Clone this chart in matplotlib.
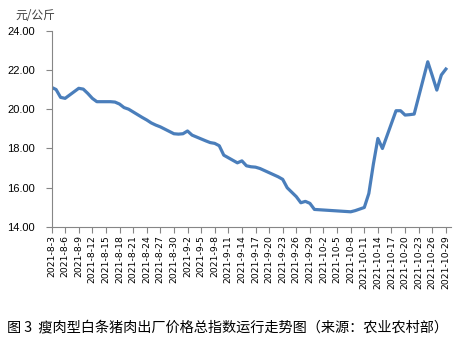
import pandas as pd
import matplotlib.pyplot as plt

plt.rcParams['font.family'] = ['Noto Sans CJK SC', 'DejaVu Sans']

# price index, yuan / kg (working days only)
dates = ['2021-08-03', '2021-08-04', '2021-08-05', '2021-08-06',
         '2021-08-09', '2021-08-10', '2021-08-11', '2021-08-12', '2021-08-13',
         '2021-08-16', '2021-08-17', '2021-08-18', '2021-08-19', '2021-08-20',
         '2021-08-23', '2021-08-24', '2021-08-25', '2021-08-26', '2021-08-27',
         '2021-08-30', '2021-08-31', '2021-09-01', '2021-09-02', '2021-09-03',
         '2021-09-06', '2021-09-07', '2021-09-08', '2021-09-09', '2021-09-10',
         '2021-09-13', '2021-09-14', '2021-09-15', '2021-09-16', '2021-09-17',
         '2021-09-18', '2021-09-22', '2021-09-23', '2021-09-24', '2021-09-26',
         '2021-09-27', '2021-09-28', '2021-09-29', '2021-09-30',
         '2021-10-08', '2021-10-09', '2021-10-11', '2021-10-12', '2021-10-13',
         '2021-10-14', '2021-10-15', '2021-10-18', '2021-10-19', '2021-10-20',
         '2021-10-21', '2021-10-22', '2021-10-25', '2021-10-26', '2021-10-27',
         '2021-10-28', '2021-10-29']
prices = [21.11, 21.00, 20.60, 20.55,
          21.06, 21.02, 20.80, 20.55, 20.38,
          20.38, 20.36, 20.26, 20.08, 20.00,
          19.58, 19.45, 19.30, 19.19, 19.10,
          18.75, 18.73, 18.75, 18.89, 18.68,
          18.39, 18.30, 18.26, 18.14, 17.66,
          17.27, 17.37, 17.12, 17.07, 17.05,
          16.98, 16.56, 16.43, 16.00, 15.55,
          15.24, 15.31, 15.21, 14.90,
          14.78, 14.84, 15.00, 15.71, 17.20,
          18.51, 18.00, 19.92, 19.92, 19.70,
          19.72, 19.75, 22.41, 21.70, 20.97,
          21.74, 22.04]

x = pd.to_datetime(dates)
tick_dates = pd.date_range('2021-08-03', '2021-10-29', freq='3D')
tick_labels = [f'{d.year}-{d.month}-{d.day}' for d in tick_dates]

fig = plt.figure(figsize=(4.6, 3.39), dpi=100)
ax = fig.add_axes([0.112, 0.330, 0.868, 0.580])

ax.plot(x, prices, color='#4a7ebb', lw=2.3, solid_joinstyle='round')

ax.set_ylim(14, 24)
ax.set_yticks([14, 16, 18, 20, 22, 24])
ax.set_yticklabels([f'{v:.2f}' for v in [14, 16, 18, 20, 22, 24]],
                   family='Liberation Sans', fontsize=8)
ax.set_xlim(pd.Timestamp('2021-08-03'), pd.Timestamp('2021-10-29') + pd.Timedelta(hours=26))
ax.set_xticks(tick_dates)
ax.set_xticklabels(tick_labels, rotation=90, family='DejaVu Sans', fontsize=6.7)

for s in ['top', 'right']:
    ax.spines[s].set_visible(False)
for s in ['left', 'bottom']:
    ax.spines[s].set_color('#868686')
ax.tick_params(axis='both', color='#868686', length=4, width=0.8, pad=2)
ax.tick_params(axis='y', pad=8)

fig.text(0.033, 0.955, '元/公斤', fontsize=8.5, color='#404040', va='center')
fig.text(0.015, 0.035, '图 3  瘦肉型白条猪肉出厂价格总指数运行走势图（来源：农业农村部）',
         fontsize=10.2, va='center')

fig.savefig('out.png', dpi=100)
